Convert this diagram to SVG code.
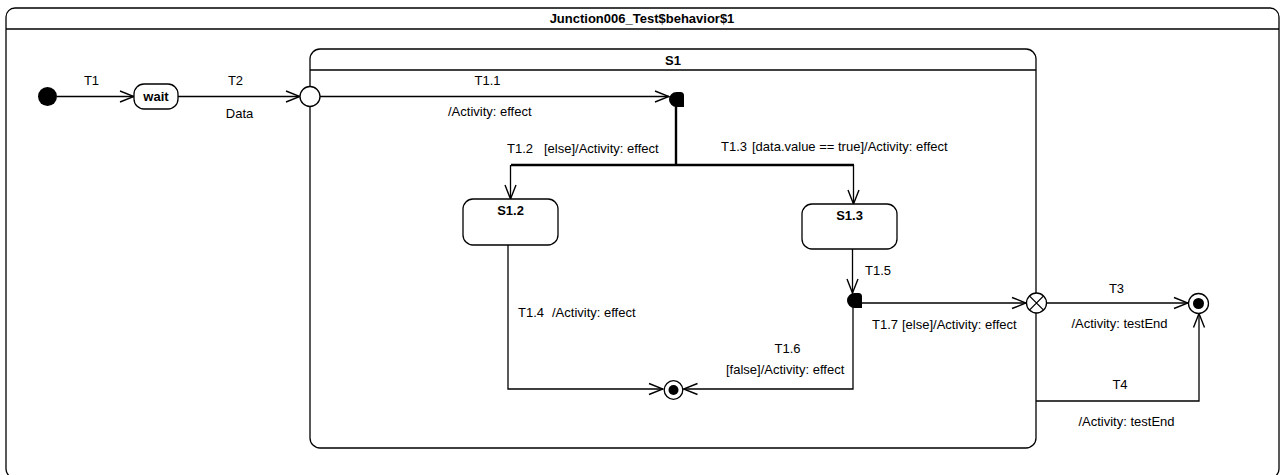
<svg xmlns="http://www.w3.org/2000/svg" width="1284" height="475" viewBox="0 0 1284 475">
<style>
text{font-family:"Liberation Sans",Arial,sans-serif;font-size:13px;fill:#000}
.b{font-weight:bold}
.m{text-anchor:middle}
.box{fill:#fff;stroke:#000;stroke-width:1.3}
.ln{fill:none;stroke:#000;stroke-width:1.3}
.thick{fill:none;stroke:#000;stroke-width:2.4}
</style>
<defs>
<marker id="arr" viewBox="-15 -7 16 14" markerWidth="16" markerHeight="14" refX="0" refY="0" orient="auto" markerUnits="userSpaceOnUse">
<path d="M-14,-5.5 L0,0 L-14,5.5" fill="none" stroke="#000" stroke-width="1.4"/>
</marker>
</defs>
<rect width="1284" height="475" fill="#fff"/>
<g id="frame">
<rect class="box" x="6" y="8" width="1273" height="470" rx="9"/>
<line class="ln" x1="6" y1="29" x2="1279" y2="29"/>
<text class="b m" x="642" y="23">Junction006_Test$behavior$1</text>
</g>
<g id="S1">
<rect class="box" x="310" y="49" width="726" height="399" rx="10"/>
<line class="ln" x1="310" y1="70" x2="1036" y2="70"/>
<text class="b m" x="673" y="65">S1</text>
</g>
<g id="connectors">
<line class="ln" x1="57" y1="96.5" x2="134" y2="96.5" marker-end="url(#arr)"/>
<line class="ln" x1="178" y1="96.5" x2="300" y2="96.5" marker-end="url(#arr)"/>
<line class="ln" x1="320" y1="96.5" x2="669" y2="96.5" marker-end="url(#arr)"/>
<path class="thick" d="M676,106 V165 M511,165 H854"/>
<line class="ln" x1="510.5" y1="165" x2="510.5" y2="199" marker-end="url(#arr)"/>
<line class="ln" x1="853.5" y1="165" x2="853.5" y2="204" marker-end="url(#arr)"/>
<path class="ln" d="M508,245 V389 H663" marker-end="url(#arr)"/>
<line class="ln" x1="852.5" y1="249" x2="852.5" y2="293" marker-end="url(#arr)"/>
<path class="ln" d="M853,307 V389 H683.5" marker-end="url(#arr)"/>
<line class="ln" x1="862" y1="303" x2="1026" y2="303" marker-end="url(#arr)"/>
<line class="ln" x1="1047" y1="303" x2="1188" y2="303" marker-end="url(#arr)"/>
<path class="ln" d="M1036,401 H1199 V313.5" marker-end="url(#arr)"/>
<text class="m" x="91.5" y="85">T1</text>
<text class="m" x="235.5" y="85">T2</text>
<text class="m" x="239.5" y="118">Data</text>
<text class="m" x="487.5" y="85">T1.1</text>
<text x="448" y="116">/Activity: effect</text>
<text y="153"><tspan x="507">T1.2</tspan><tspan x="544">[else]/Activity: effect</tspan></text>
<text y="151"><tspan x="721">T1.3</tspan><tspan x="752">[data.value == true]/Activity: effect</tspan></text>
<text y="317"><tspan x="518">T1.4</tspan><tspan x="552">/Activity: effect</tspan></text>
<text x="865" y="275">T1.5</text>
<text class="m" x="787.5" y="353">T1.6</text>
<text x="726" y="374">[false]/Activity: effect</text>
<text y="329"><tspan x="872">T1.7</tspan><tspan x="902">[else]/Activity: effect</tspan></text>
<text class="m" x="1116.5" y="293">T3</text>
<text class="m" x="1119.5" y="328">/Activity: testEnd</text>
<text class="m" x="1120" y="389">T4</text>
<text class="m" x="1126.5" y="426">/Activity: testEnd</text>
</g>
<g id="initial"><circle cx="47.5" cy="96.5" r="9.5" fill="#000"/></g>
<g id="wait">
<rect class="box" x="134" y="84" width="44" height="25" rx="10"/>
<text class="b m" x="156" y="101">wait</text>
</g>
<g id="entry"><circle class="box" cx="310" cy="96.5" r="10"/></g>
<g id="junction1"><path d="M676.5,92 A7.5,7.5 0 0 0 676.5,107 L684,107 L684,95.5 Q684,92 680.5,92 Z" fill="#000"/></g>
<g id="S1_2">
<rect class="box" x="463" y="199" width="95" height="46" rx="10"/>
<text class="b m" x="510.5" y="215">S1.2</text>
</g>
<g id="S1_3">
<rect class="box" x="802" y="204" width="95" height="45" rx="10"/>
<text class="b m" x="849.5" y="220">S1.3</text>
</g>
<g id="junction2"><path d="M854.5,293 A7.5,7.5 0 0 0 854.5,308 L862,308 L862,296.5 Q862,293 858.5,293 Z" fill="#000"/></g>
<g id="final_S1">
<circle class="box" cx="673.5" cy="390" r="9.3"/>
<circle cx="673.5" cy="390" r="5" fill="#000"/>
</g>
<g id="exit">
<circle class="box" cx="1036.5" cy="303" r="10"/>
<path class="ln" d="M1029.4,295.9 L1043.6,310.1 M1043.6,295.9 L1029.4,310.1"/>
</g>
<g id="final">
<circle class="box" cx="1198.5" cy="303.5" r="10"/>
<circle cx="1198.5" cy="303.5" r="5.5" fill="#000"/>
</g>
</svg>
